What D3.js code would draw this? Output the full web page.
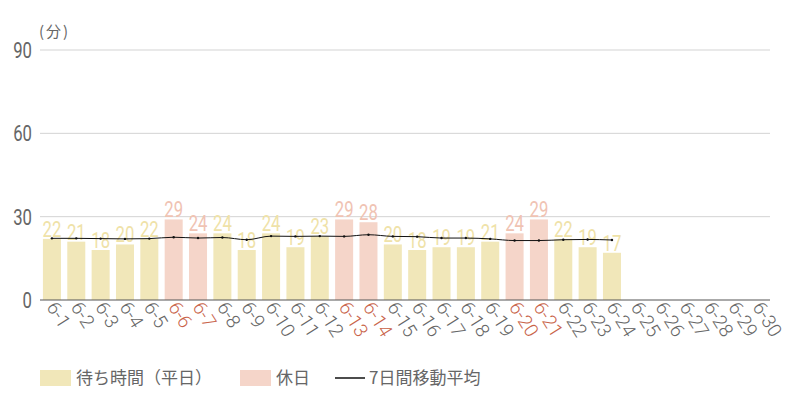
<!DOCTYPE html>
<html><head><meta charset="utf-8">
<script src="https://cdn.jsdelivr.net/npm/d3@7"></script>
<style>
body{margin:0;background:#fff;}
svg{display:block;}
</style></head>
<body>
<svg id="chart" width="800" height="400"></svg>
<script>
const categories = ["6-1","6-2","6-3","6-4","6-5","6-6","6-7","6-8","6-9","6-10","6-11","6-12","6-13","6-14","6-15","6-16","6-17","6-18","6-19","6-20","6-21","6-22","6-23","6-24","6-25","6-26","6-27","6-28","6-29","6-30"];
const waitValues = [22,21,18,20,22,29,24,24,18,24,19,23,29,28,20,18,19,19,21,24,29,22,19,17];
const holidays = ["6-6","6-7","6-13","6-14","6-20","6-21"];
const movingAvg = [22.2,22.2,22.1,22.0,22.1,22.6,22.3,22.5,21.7,23.0,22.9,23.0,22.9,23.5,22.9,22.8,22.3,22.3,22.0,21.4,21.4,21.7,21.8,21.6];
const yTicks = [0,30,60,90];
const legendLabels = ["待ち時間（平日）","休日","7日間移動平均"];
const unitLabel = "(分)";

const colWeek = "#f1e7b9", colWeekText = "#efe2a8";
const colHol = "#f5d5c9", colHolText = "#f0c3b3";
const numFont = "Roboto,sans-serif";
const cjk = "'Noto Sans CJK JP','Noto Sans',sans-serif";
const squeeze = 0.76;

const svg = d3.select("#chart");
const x = d3.scaleBand().domain(categories).range([40,770]).paddingInner(0.26).paddingOuter(0.12);
const y = d3.scaleLinear().domain([0,90]).range([300,50]);

// grid
svg.append("g").selectAll("line").data(yTicks.filter(d=>d>0)).join("line")
  .attr("x1",40).attr("x2",770).attr("y1",d=>y(d)).attr("y2",d=>y(d))
  .attr("stroke","#d3d3d3").attr("stroke-width",1);

// y labels
svg.append("g").selectAll("text").data(yTicks).join("text")
  .attr("transform",d=>`translate(32,${y(d)}) scale(${squeeze},1)`)
  .attr("dy","0.36em").attr("text-anchor","end")
  .attr("font-family",numFont).attr("font-size",22).attr("fill","#666").text(d=>d);

svg.append("text").attr("x",39).attr("y",37).attr("font-family",cjk).attr("font-size",15)
  .attr("letter-spacing",2).attr("fill","#666").text(unitLabel);

const data = waitValues.map((v,i)=>({c:categories[i],v,ma:movingAvg[i],hol:holidays.includes(categories[i])}));

svg.append("g").selectAll("rect").data(data).join("rect")
  .attr("x",d=>x(d.c)).attr("width",x.bandwidth())
  .attr("y",d=>y(d.v)).attr("height",d=>y(0)-y(d.v))
  .attr("fill",d=>d.hol?colHol:colWeek);

svg.append("g").selectAll("text").data(data).join("text")
  .attr("transform",d=>`translate(${x(d.c)+x.bandwidth()/2},${y(d.v)-2}) scale(${squeeze},1)`)
  .attr("text-anchor","middle").attr("font-family",numFont).attr("font-size",22)
  .attr("fill",d=>d.hol?colHolText:colWeekText).text(d=>d.v);

// zero axis
svg.append("line").attr("x1",40).attr("x2",770).attr("y1",y(0)).attr("y2",y(0))
  .attr("stroke","#555").attr("stroke-width",1);

// moving average
const line = d3.line().x(d=>x(d.c)+x.bandwidth()/2).y(d=>y(d.ma)).curve(d3.curveMonotoneX);
svg.append("path").datum(data).attr("d",line).attr("fill","none").attr("stroke","#111").attr("stroke-width",1);
svg.append("g").selectAll("circle").data(data).join("circle")
  .attr("cx",d=>x(d.c)+x.bandwidth()/2).attr("cy",d=>y(d.ma)).attr("r",1.2).attr("fill","#111");

// x labels
svg.append("g").selectAll("text").data(categories).join("text")
  .attr("transform",d=>`translate(${x(d)+x.bandwidth()/2-6},${307}) rotate(58)`)
  .attr("font-family","Roboto,sans-serif").attr("font-size",19).attr("font-weight",300)
  .attr("fill",d=>holidays.includes(d)?"#c9644a":"#666").text(d=>d);

// legend
const lg = svg.append("g");
lg.append("rect").attr("x",40).attr("y",370).attr("width",31).attr("height",16).attr("fill",colWeek);
lg.append("text").attr("x",76).attr("y",384).attr("font-family",cjk).attr("font-size",17).attr("fill","#666").text(legendLabels[0]);
lg.append("rect").attr("x",240).attr("y",370).attr("width",31).attr("height",16).attr("fill",colHol);
lg.append("text").attr("x",276).attr("y",384).attr("font-family",cjk).attr("font-size",17).attr("fill","#666").text(legendLabels[1]);
lg.append("line").attr("x1",335).attr("x2",365).attr("y1",378).attr("y2",378).attr("stroke","#111").attr("stroke-width",1.5);
lg.append("text").attr("x",369).attr("y",384).attr("font-family",cjk).attr("font-size",17).attr("fill","#666").text(legendLabels[2]);
</script>
</body></html>
